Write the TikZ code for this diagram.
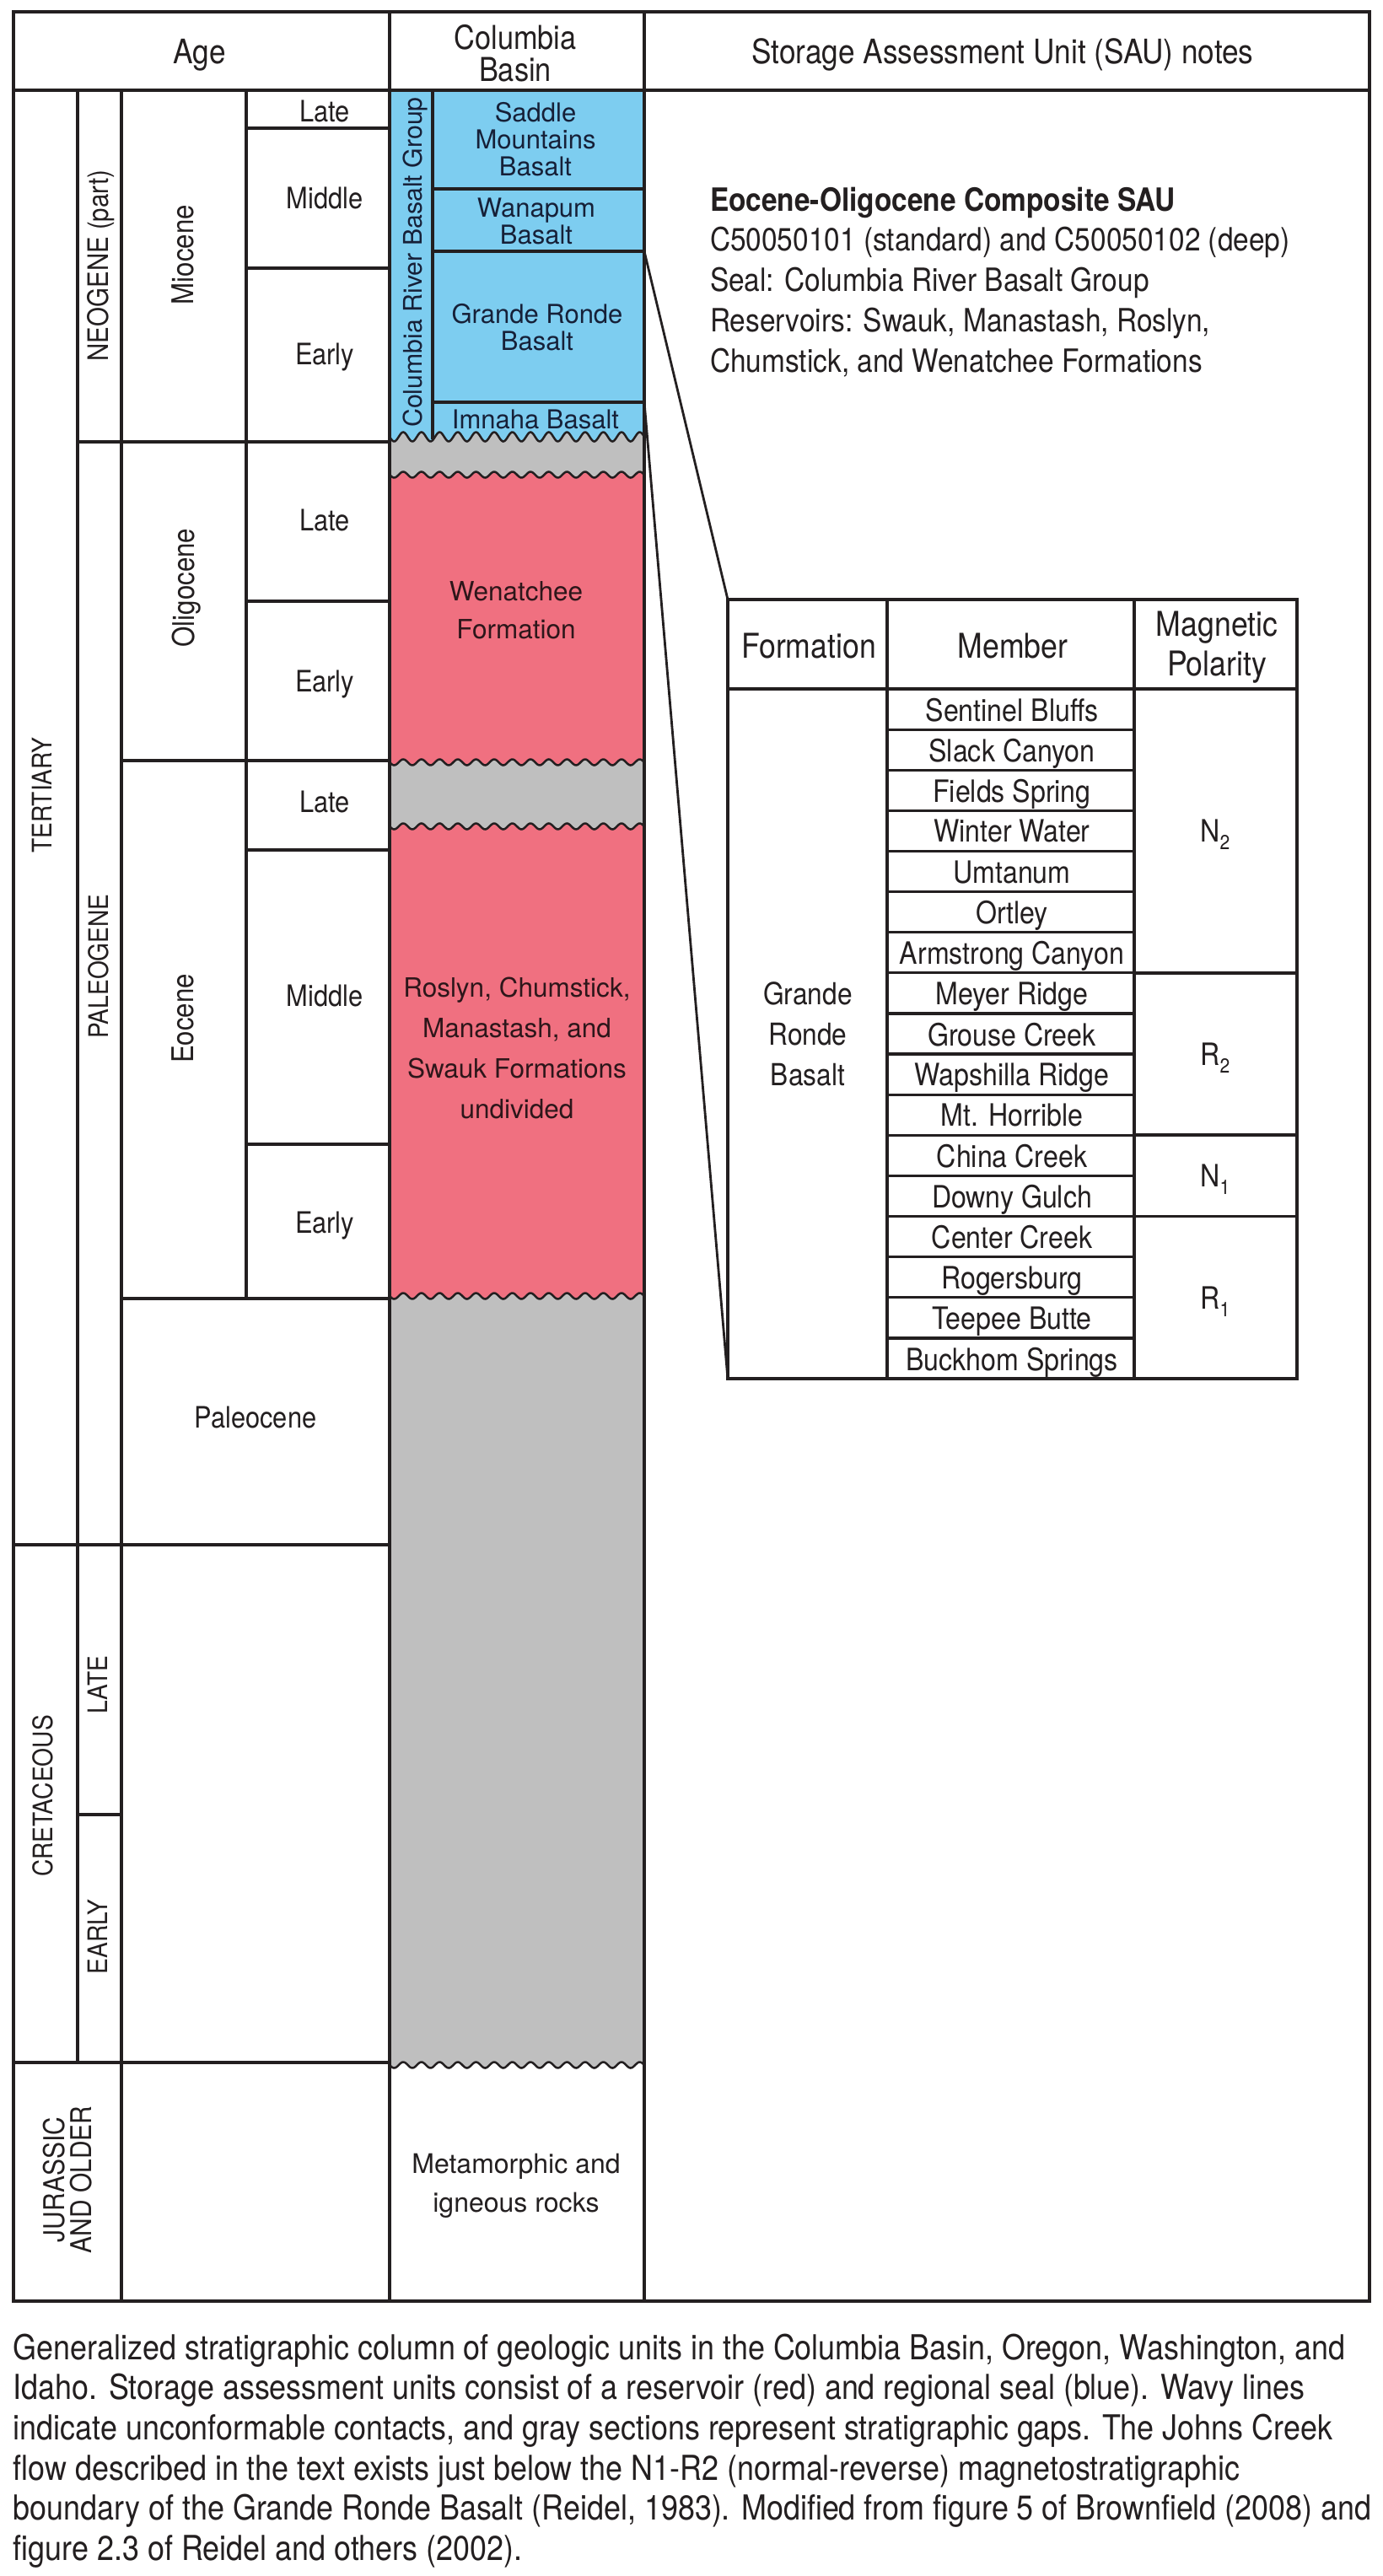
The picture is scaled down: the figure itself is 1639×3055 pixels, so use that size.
\documentclass[tikz,border=0pt]{standalone}
\usepackage{fontspec}
\setmainfont{TeX Gyre Heros}
\newfontfamily\cnf{TeX Gyre Heros}[FakeStretch=0.88]
\newcommand\myfs[2]{\fontsize{#1pt}{#2pt}\selectfont}
\definecolor{lc}{RGB}{35,31,32}
\definecolor{crbg}{RGB}{125,205,240}
\definecolor{res}{RGB}{240,112,128}
\definecolor{gap}{RGB}{191,191,191}
\definecolor{bt}{RGB}{22,32,56}
\definecolor{rt}{RGB}{45,22,26}
\begin{document}
\begin{tikzpicture}[x=1pt,y=-1pt,
  declare function={wv(\wx,\wa)=\wa*sin(((\wx-462)/21.57)*360);},
  lblbase/.style={inner sep=0pt, outer sep=0pt, text=lc, anchor=north},
  cnt/.style 2 args={lblbase, font={\cnf\myfs{#1}{#2}}, align=center},
  rgt/.style 2 args={lblbase, font={\myfs{#1}{#2}}, align=center},
  gridl/.style={draw=lc, line width=3.5pt},
  framel/.style={draw=lc, line width=4.5pt},
  tabl/.style={draw=lc, line width=3.8pt},
  rowl/.style={draw=lc, line width=3.2pt},
  conn/.style={draw=lc, line width=2.8pt},
  wavel/.style={draw=lc, line width=2.5pt},
]
\useasboundingbox (0,0) rectangle (1639,3055);
\fill[white] (0,0) rectangle (1639,3055);

% ---------- Columbia Basin column fills ----------
\fill[gap] (462,500) -- (764,500) -- (764,2449) -- plot[domain=764:462,samples=241] (\x,{2449+wv(\x,3.5)}) -- cycle;
\fill[crbg] (462,107) -- (764,107) -- (764,518) -- plot[domain=764:462,samples=241] (\x,{518+wv(\x,5.5)}) -- cycle;
\fill[res] plot[domain=462:764,samples=241] (\x,{563+wv(\x,3.5)}) -- plot[domain=764:462,samples=241] (\x,{904+wv(\x,3.5)}) -- cycle;
\fill[res] plot[domain=462:764,samples=241] (\x,{980+wv(\x,3.5)}) -- plot[domain=764:462,samples=241] (\x,{1537+wv(\x,3.5)}) -- cycle;

% wavy unconformities
\draw[wavel] plot[domain=462:764,samples=241] (\x,{518+wv(\x,5.5)});
\draw[wavel] plot[domain=462:764,samples=241] (\x,{563+wv(\x,3.5)});
\draw[wavel] plot[domain=462:764,samples=241] (\x,{904+wv(\x,3.5)});
\draw[wavel] plot[domain=462:764,samples=241] (\x,{980+wv(\x,3.5)});
\draw[wavel] plot[domain=462:764,samples=241] (\x,{1537+wv(\x,3.5)});
\draw[wavel] plot[domain=462:764,samples=241] (\x,{2449+wv(\x,3.5)});

% CRBG internal boxes
\draw[gridl] (513,107) -- (513,521);
\draw[gridl] (513,224) -- (764,224);
\draw[gridl] (513,298) -- (764,298);
\draw[gridl] (513,477) -- (764,477);

% ---------- main grid ----------
\draw[gridl] (462,14) -- (462,2729);
\draw[gridl] (764,14) -- (764,2729);
\draw[gridl] (16,107) -- (1624,107);
\draw[gridl] (92,107) -- (92,2446);
\draw[gridl] (144,107) -- (144,2729);
\draw[gridl] (292,107) -- (292,1540);
\draw[gridl] (292,152) -- (462,152);
\draw[gridl] (292,318) -- (462,318);
\draw[gridl] (92,524) -- (462,524);
\draw[gridl] (292,713) -- (462,713);
\draw[gridl] (144,902) -- (462,902);
\draw[gridl] (292,1008) -- (462,1008);
\draw[gridl] (292,1357) -- (462,1357);
\draw[gridl] (144,1540) -- (462,1540);
\draw[gridl] (16,1832) -- (462,1832);
\draw[gridl] (92,2152) -- (144,2152);
\draw[gridl] (16,2446) -- (462,2446);
\draw[framel] (16,14) rectangle (1624,2729);

% ---------- headers ----------
\node[cnt={40}{48}] (hage) at (237,46) {Age};
\node[cnt={39}{38}] (hcol) at (611,29) {Columbia\\Basin};
\node[cnt={40}{48}] (hsau) at (1189,46) {Storage Assessment Unit (SAU) notes};

% ---------- age labels ----------
\node[cnt={32}{40}, rotate=90] (tert) at (38,943) {TERTIARY};
\node[cnt={33.5}{40}, rotate=90] (neog) at (103,315) {NEOGENE (part)};
\node[cnt={32}{40}, rotate=90] (paleog) at (105,1146) {PALEOGENE};
\node[cnt={35.5}{40}, rotate=90] (mioc) at (204,302) {Miocene};
\node[cnt={35.5}{40}, rotate=90] (olig) at (204,697) {Oligocene};
\node[cnt={35.5}{40}, rotate=90] (eoc) at (204,1208) {Eocene};
\node[cnt={32}{40}, rotate=90] (cret) at (39,2130) {CRETACEOUS};
\node[cnt={32}{40}, rotate=90] (cretl) at (104.5,1998) {LATE};
\node[cnt={32}{40}, rotate=90] (crete) at (104.5,2297) {EARLY};
\node[cnt={34}{32}, rotate=90] (jur) at (51,2585) {JURASSIC\\AND OLDER};

\node[cnt={35}{40}] (miol) at (385,119.4) {Late};
\node[cnt={35}{40}] (miom) at (385,222.4) {Middle};
\node[cnt={35}{40}] (mioe) at (385,407.4) {Early};
\node[cnt={35}{40}] (olil) at (385,604.4) {Late};
\node[cnt={35}{40}] (olie) at (385,795.4) {Early};
\node[cnt={35}{40}] (eocl) at (385,938.4) {Late};
\node[cnt={35}{40}] (eocm) at (385,1168.4) {Middle};
\node[cnt={35}{40}] (eoce) at (385,1437.4) {Early};
\node[cnt={35}{40}] (paleoc) at (303,1668) {Paleocene};

% ---------- Columbia Basin units ----------
\node[rgt={30.3}{40}, rotate=90, text=bt] (crbgt) at (478,311) {Columbia River Basalt Group};
\node[rgt={31}{32}, text=bt] (saddle) at (635,121) {Saddle\\Mountains\\Basalt};
\node[rgt={31}{32}, text=bt] (wanapum) at (636,235) {Wanapum\\Basalt};
\node[rgt={31}{32}, text=bt] (grb) at (637,360) {Grande Ronde\\Basalt};
\node[rgt={31}{32}, text=bt] (imnaha) at (635,486) {Imnaha Basalt};
\node[rgt={31.5}{45}, text=rt] (wen) at (612,690) {Wenatchee\\Formation};
\node[rgt={31.5}{48}, text=rt] (ros) at (613,1159.4) {Roslyn, Chumstick,\\Manastash, and\\Swauk Formations\\undivided};
\node[rgt={32}{46}] (meta) at (612,2554) {Metamorphic and\\igneous rocks};

% ---------- SAU notes ----------
\node[cnt={38}{47.75}, anchor=north west, align=left] (sau) at (842,221.7)
  {\textbf{Eocene-Oligocene Composite SAU}\\
   C50050101 (standard) and C50050102 (deep)\\
   Seal: Columbia River Basalt Group\\
   Reservoirs: Swauk, Manastash, Roslyn,\\
   Chumstick, and Wenatchee Formations};

% ---------- inset table ----------
\coordinate (ttl) at (863,711);
\coordinate (tbl) at (863,1635);
\coordinate (grtr) at (764,298);
\coordinate (grbr) at (764,477);
\draw[tabl] (ttl) rectangle (1538,1635);
\draw[tabl] (1052,711) -- (1052,1635);
\draw[tabl] (1345,711) -- (1345,1635);
\draw[tabl] (863,817) -- (1538,817);
\foreach \k in {1,...,16} \draw[rowl] (1052,{817+48.12*\k}) -- (1345,{817+48.12*\k});
\foreach \k in {7,11,13} \draw[tabl] (1345,{817+48.12*\k}) -- (1538,{817+48.12*\k});

\node[cnt={40.5}{47}] (thf) at (959,750.5) {Formation};
\node[cnt={40.5}{47}] (thm) at (1201,750.5) {Member};
\node[cnt={40.5}{47}] (thp) at (1443,725) {Magnetic\\Polarity};
\node[cnt={36}{48}] (tgr) at (958,1165) {Grande\\Ronde\\Basalt};
\foreach \m [count=\k] in {Sentinel Bluffs, Slack Canyon, Fields Spring, Winter Water, Umtanum, Ortley, Armstrong Canyon, Meyer Ridge, Grouse Creek, Wapshilla Ridge, Mt. Horrible, China Creek, Downy Gulch, Center Creek, Rogersburg, Teepee Butte, Buckhom Springs}
  \node[cnt={36.5}{44}] (mem\k) at (1200,{817+48.12*(\k-0.5)-13.1}) {\m};
\node[cnt={36.5}{44}] (pn2) at (1441,972.3) {N\raisebox{-9pt}{\myfs{24}{24}2}};
\node[cnt={36.5}{44}] (pr2) at (1441,1237) {R\raisebox{-9pt}{\myfs{24}{24}2}};
\node[cnt={36.5}{44}] (pn1) at (1441,1381.3) {N\raisebox{-9pt}{\myfs{24}{24}1}};
\node[cnt={36.5}{44}] (pr1) at (1441,1525.7) {R\raisebox{-9pt}{\myfs{24}{24}1}};

% connectors from Grande Ronde Basalt to table
\draw[conn] (grtr) -- (ttl);
\draw[conn] (grbr) -- (tbl);

% ---------- caption ----------
\node[cnt={40.8}{47.6}, anchor=north west, align=left] (cap) at (16,2767.7)
  {Generalized stratigraphic column of geologic units in the Columbia Basin, Oregon, Washington, and\\
   Idaho. Storage assessment units consist of a reservoir (red) and regional seal (blue). Wavy lines\\
   indicate unconformable contacts, and gray sections represent stratigraphic gaps. The Johns Creek\\
   flow described in the text exists just below the N1-R2 (normal-reverse) magnetostratigraphic\\
   boundary of the Grande Ronde Basalt (Reidel, 1983). Modified from figure 5 of Brownfield (2008) and\\
   figure 2.3 of Reidel and others (2002).};
\end{tikzpicture}
\end{document}
